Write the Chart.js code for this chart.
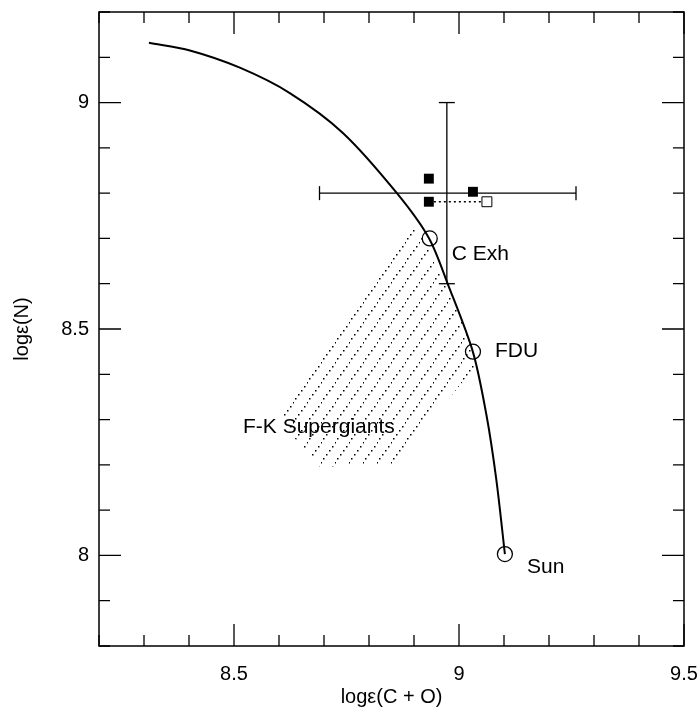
<!DOCTYPE html>
<html>
<head>
<meta charset="utf-8">
<script src="https://cdn.jsdelivr.net/npm/chart.js@4.4.1/dist/chart.umd.min.js"></script>
<style>
  html, body { margin: 0; padding: 0; background: #fff; }
</style>
</head>
<body>
<canvas id="grafico" width="700" height="710"></canvas>
<script>
// mixing curve
const curveX = [8.311, 8.402, 8.513, 8.624, 8.742, 8.862, 8.933, 8.976, 9.031, 9.061, 9.083, 9.102];
const curveY = [9.132, 9.115, 9.077, 9.021, 8.933, 8.800, 8.701, 8.597, 8.449, 8.310, 8.167, 8.003];
// open circles on the curve
const modelX = [8.935, 9.031, 9.102];
const modelY = [8.70, 8.45, 8.003];
// filled squares
const starX = [8.933, 9.031, 8.933];
const starY = [8.832, 8.803, 8.781];
// open square and its dotted link
const openX = [9.062];
const openY = [8.781];
const linkX = [8.933, 9.062];
const linkY = [8.781, 8.781];
// error bars
const errHX = [8.69, 9.26];
const errHY = [8.80, 8.80];
const errVX = [8.973, 8.973];
const errVY = [9.0, 8.6];
// F-K supergiant region
const hatchX = [8.602, 8.902, 8.942, 8.99, 9.042, 8.858, 8.69, 8.64, 8.602];
const hatchY = [8.324, 8.724, 8.66, 8.565, 8.425, 8.200, 8.196, 8.25, 8.324];
// labels
const labelText = ['C Exh', 'FDU', 'Sun', 'F-K Supergiants'];
const labelX = [8.984, 9.08, 9.151, 8.52];
const labelY = [8.666, 8.45, 7.973, 8.284];
// axes
const xTicks = [8.5, 9, 9.5];
const xTickLabels = ['8.5', '9', '9.5'];
const yTicks = [8, 8.5, 9];
const yTickLabels = ['8', '8.5', '9'];

const pts = (xs, ys) => xs.map((v, i) => ({ x: v, y: ys[i] }));
const FONT = 'Liberation Sans, Arial, Helvetica, sans-serif';

function hatchPattern() {
    const t = document.createElement('canvas');
    t.width = 14; t.height = 20;
    const c = t.getContext('2d');
    c.fillStyle = '#000';
    for (let i = 0; i < 5; i++) {
        const f = (i + 0.5) / 5;
        c.fillRect(Math.round(f * 14), Math.round(20 - f * 20), 1.5, 1.5);
    }
    return c.createPattern(t, 'repeat');
}

const fundo = {
    id: 'fundo',
    beforeDraw(chart) {
        const ctx = chart.ctx;
        ctx.save();
        ctx.fillStyle = '#fff';
        ctx.fillRect(0, 0, chart.width, chart.height);
        ctx.restore();
    }
};

const moldura = {
    id: 'moldura',
    afterDatasetsDraw(chart) {
        const { ctx, chartArea: a, scales: { x, y } } = chart;
        ctx.save();
        ctx.strokeStyle = '#000';
        ctx.lineWidth = 1.5;
        ctx.strokeRect(a.left, a.top, a.right - a.left, a.bottom - a.top);
        ctx.lineWidth = 1.3;
        ctx.beginPath();
        for (let i = 82; i <= 95; i++) {
            const px = x.getPixelForValue(i / 10);
            const len = i % 5 === 0 ? 22 : 11;
            ctx.moveTo(px, a.bottom); ctx.lineTo(px, a.bottom - len);
            ctx.moveTo(px, a.top); ctx.lineTo(px, a.top + len);
        }
        for (let i = 78; i <= 92; i++) {
            const py = y.getPixelForValue(i / 10);
            const len = i % 5 === 0 ? 22 : 11;
            ctx.moveTo(a.left, py); ctx.lineTo(a.left + len, py);
            ctx.moveTo(a.right, py); ctx.lineTo(a.right - len, py);
        }
        ctx.stroke();

        // text labels
        ctx.fillStyle = '#000';
        ctx.font = '21px ' + FONT;
        ctx.textAlign = 'left';
        ctx.textBaseline = 'middle';
        labelText.forEach((t, i) => {
            ctx.fillText(t, x.getPixelForValue(labelX[i]), y.getPixelForValue(labelY[i]));
        });
        ctx.restore();
    }
};

const semPadding = s => { s.paddingLeft = 0; s.paddingRight = 0; s.paddingTop = 0; s.paddingBottom = 0; };

const ctx = document.getElementById('grafico').getContext('2d');
const grafico = new Chart(ctx, {
    type: 'scatter',
    data: {
        datasets: [
            {
                data: pts(hatchX, hatchY),
                showLine: true,
                fill: 'shape',
                backgroundColor: hatchPattern(),
                borderColor: 'rgba(0,0,0,0)',
                pointRadius: 0,
                order: 10
            },
            {
                data: pts(curveX, curveY),
                showLine: true,
                borderColor: '#000',
                borderWidth: 2,
                pointRadius: 0,
                tension: 0.3,
                order: 8
            },
            {
                data: pts(modelX, modelY),
                pointStyle: 'circle',
                pointRadius: 7.5,
                backgroundColor: 'rgba(0,0,0,0)',
                borderColor: '#000',
                borderWidth: 1.3,
                order: 6
            },
            {
                data: pts(errHX, errHY),
                showLine: true,
                borderColor: '#000',
                borderWidth: 1.3,
                pointStyle: 'line',
                rotation: 90,
                pointRadius: 7,
                order: 5
            },
            {
                data: pts(errVX, errVY),
                showLine: true,
                borderColor: '#000',
                borderWidth: 1.3,
                pointStyle: 'line',
                rotation: 0,
                pointRadius: 8,
                order: 5
            },
            {
                data: pts(linkX, linkY),
                showLine: true,
                borderColor: '#000',
                borderWidth: 1.3,
                borderDash: [2, 3],
                pointRadius: 0,
                order: 4
            },
            {
                data: pts(starX, starY),
                pointStyle: 'rect',
                pointRadius: 7,
                backgroundColor: '#000',
                borderColor: '#000',
                borderWidth: 0,
                order: 2
            },
            {
                data: pts(openX, openY),
                pointStyle: 'rect',
                pointRadius: 7,
                backgroundColor: '#fff',
                borderColor: '#000',
                borderWidth: 1,
                order: 1
            }
        ]
    },
    options: {
        responsive: false,
        animation: false,
        events: [],
        layout: { padding: { top: 12, right: 16, left: 0, bottom: 0 } },
        plugins: { legend: { display: false }, tooltip: { enabled: false } },
        scales: {
            x: {
                type: 'linear',
                min: 8.2,
                max: 9.5,
                grid: { display: false },
                border: { display: false },
                afterBuildTicks: s => { s.ticks = xTicks.map(v => ({ value: v })); },
                afterFit: s => { s.height = 64; semPadding(s); },
                ticks: {
                    color: '#000',
                    font: { family: FONT, size: 20 },
                    padding: 8,
                    maxRotation: 0,
                    autoSkip: false,
                    callback: (v, i) => xTickLabels[i]
                },
                title: {
                    display: true,
                    text: 'logε(C + O)',
                    color: '#000',
                    font: { family: FONT, size: 20 },
                    padding: { top: 0, bottom: 1 }
                }
            },
            y: {
                type: 'linear',
                min: 7.8,
                max: 9.2,
                grid: { display: false },
                border: { display: false },
                afterBuildTicks: s => { s.ticks = yTicks.map(v => ({ value: v })); },
                afterFit: s => { s.width = 99; semPadding(s); },
                ticks: {
                    color: '#000',
                    font: { family: FONT, size: 20 },
                    padding: 2,
                    autoSkip: false,
                    callback: (v, i) => yTickLabels[i]
                },
                title: {
                    display: true,
                    text: 'logε(N)',
                    color: '#000',
                    font: { family: FONT, size: 20 },
                    padding: { top: 10, bottom: 0 }
                }
            }
        }
    },
    plugins: [fundo, moldura]
});
</script>
</body>
</html>
